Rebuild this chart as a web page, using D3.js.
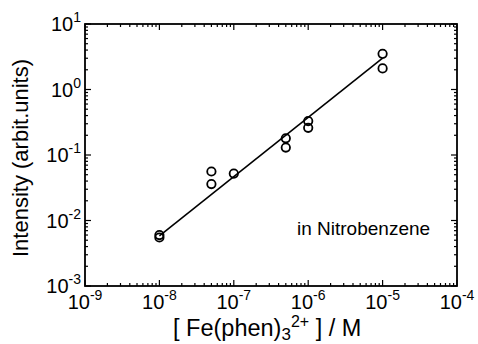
<!DOCTYPE html>
<html>
<head>
<meta charset="utf-8">
<script src="https://cdn.jsdelivr.net/npm/d3@7"></script>
<style>
  body { margin: 0; background: #fff; }
  text { font-family: "Liberation Sans", Arial, sans-serif; fill: #000; }
</style>
</head>
<body>
<script>
// measured points, [Fe(phen)3 2+] in M vs intensity
const concentration = [1e-8, 1e-8, 5e-8, 5e-8, 1e-7, 5e-7, 5e-7, 1e-6, 1e-6, 1e-5, 1e-5];
const intensity = [0.0055, 0.006, 0.056, 0.036, 0.052, 0.18, 0.13, 0.33, 0.26, 3.5, 2.1];

// fitted straight line
const fitX = [1e-8, 1e-5];
const fitY = [0.0058, 3.0];

const xExponents = [-9, -8, -7, -6, -5, -4];
const yExponents = [-3, -2, -1, 0, 1];

const width = 478, height = 344;
const margin = {top: 24, right: 21, bottom: 58, left: 85};

const x = d3.scaleLog().domain([1e-9, 1e-4]).range([margin.left, width - margin.right]);
const y = d3.scaleLog().domain([1e-3, 1e1]).range([height - margin.bottom, margin.top]);

const svg = d3.select("body").append("svg")
  .attr("width", width)
  .attr("height", height);

const x0 = margin.left, x1 = width - margin.right;
const y0 = height - margin.bottom, y1 = margin.top;

// minor + major ticks, all pointing inward on four sides
function ticksFor(scale) {
  const out = [];
  const [a, b] = scale.domain().map(Math.log10);
  for (let e = a; e <= b; e++) {
    out.push({v: Math.pow(10, e), major: true});
    if (e < b) for (let k = 2; k <= 9; k++) out.push({v: k * Math.pow(10, e), major: false});
  }
  return out;
}

const tickG = svg.append("g").attr("stroke", "#000").attr("stroke-width", 1.2);
ticksFor(x).forEach(t => {
  const len = t.major ? 6 : 3;
  tickG.append("line").attr("x1", x(t.v)).attr("x2", x(t.v)).attr("y1", y0).attr("y2", y0 - len);
  tickG.append("line").attr("x1", x(t.v)).attr("x2", x(t.v)).attr("y1", y1).attr("y2", y1 + len);
});
ticksFor(y).forEach(t => {
  const len = t.major ? 6 : 3;
  tickG.append("line").attr("y1", y(t.v)).attr("y2", y(t.v)).attr("x1", x0).attr("x2", x0 + len);
  tickG.append("line").attr("y1", y(t.v)).attr("y2", y(t.v)).attr("x1", x1).attr("x2", x1 - len);
});

svg.append("rect")
  .attr("x", x0).attr("y", y1)
  .attr("width", x1 - x0).attr("height", y0 - y1)
  .attr("fill", "none").attr("stroke", "#000").attr("stroke-width", 1.8);

// tick labels as 10^n
const xl = svg.append("g");
xExponents.forEach(e => {
  const t = xl.append("text")
    .attr("x", x(Math.pow(10, e)))
    .attr("y", y0 + 23)
    .attr("text-anchor", "middle")
    .attr("font-size", 20);
  t.append("tspan").text("10");
  t.append("tspan").attr("dy", -9).attr("font-size", 14).text(e);
});

const yl = svg.append("g");
yExponents.forEach(e => {
  const t = yl.append("text")
    .attr("x", x0 - 4)
    .attr("y", y(Math.pow(10, e)) + 7)
    .attr("text-anchor", "end")
    .attr("font-size", 20);
  t.append("tspan").text("10");
  t.append("tspan").attr("dy", -9).attr("font-size", 14).text(e);
});

// fit line
svg.append("line")
  .attr("x1", x(fitX[0])).attr("y1", y(fitY[0]))
  .attr("x2", x(fitX[1])).attr("y2", y(fitY[1]))
  .attr("stroke", "#000").attr("stroke-width", 1.6);

// open circles
svg.append("g").selectAll("circle")
  .data(concentration)
  .join("circle")
  .attr("cx", d => x(d))
  .attr("cy", (d, i) => y(intensity[i]))
  .attr("r", 4.2)
  .attr("fill", "none")
  .attr("stroke", "#000")
  .attr("stroke-width", 1.8);

svg.append("text")
  .attr("x", 297).attr("y", 235)
  .attr("font-size", 19)
  .text("in Nitrobenzene");

// axis titles
svg.append("text")
  .attr("transform", `translate(28,${(y0 + y1) / 2 + 3}) rotate(-90)`)
  .attr("text-anchor", "middle")
  .attr("font-size", 22)
  .text("Intensity (arbit.units)");

const xt = svg.append("text")
  .attr("x", 173).attr("y", 336)
  .attr("font-size", 23.5);
xt.append("tspan").text("[ Fe(phen)");
xt.append("tspan").attr("dy", 4).attr("font-size", 17).text("3");
xt.append("tspan").attr("dy", -13).attr("font-size", 16).text("2+");
xt.append("tspan").attr("dy", 9).text(" ] / M");
</script>
</body>
</html>
